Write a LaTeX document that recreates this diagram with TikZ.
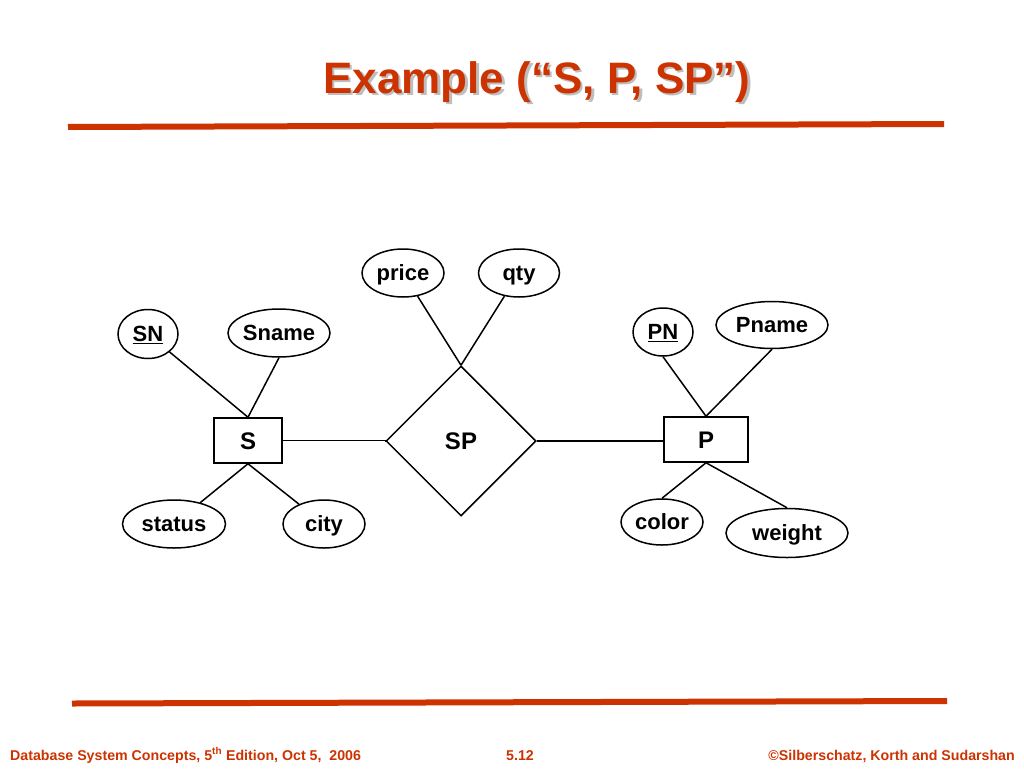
\documentclass[tikz,border=0pt]{standalone}
\usepackage{fontspec}
\setmainfont{Liberation Sans}
\usetikzlibrary{positioning,shapes,fit}
\definecolor{slidered}{RGB}{204,51,0}
\definecolor{shadowgray}{RGB}{190,190,190}
\tikzset{
  attr/.style={draw, ellipse, line width=1.5, inner sep=0, font=\fontsize{22}{24}\selectfont\bfseries, text height=15.8, text depth=0pt},
  entity/.style={draw, rectangle, line width=1.5, inner sep=0, font=\fontsize{24}{26}\selectfont\bfseries, text height=17.2, text depth=0pt},
  relship/.style={draw, diamond, line width=1.5, inner sep=0, minimum width=150, minimum height=150, font=\fontsize{24}{26}\selectfont\bfseries, text height=17.2, text depth=0pt},
  link/.style={line width=1.5},
  rule/.style={line width=6, color=slidered},
  footer/.style={inner sep=0, text=slidered, font=\fontsize{14.2}{16}\selectfont\bfseries}
}
\newcommand{\titletext}{Example (“S, P, SP”)}

\begin{document}
\begin{tikzpicture}[x=1pt,y=-1pt]
\useasboundingbox[fill=white] (0,0) rectangle (1024,768);

\node[anchor=base, inner sep=0, font=\fontsize{44}{48}\selectfont\bfseries] (title) at (537,93)
  {\makebox[0pt][l]{\hspace{2.5pt}\raisebox{-2.5pt}{\textcolor{shadowgray}{\titletext}}}\textcolor{slidered}{\titletext}};
\draw[rule] (68,127) -- (944,124);

\node[entity, minimum width=68, minimum height=45] (S) at (248,440.5) {S};
\node[entity, minimum width=84, minimum height=45] (P) at (706,439.5) {P};
\node[relship] (SP) at (461,441) {SP};

\node[attr, minimum width=60, minimum height=49] (SN) at (148,334) {\underline{SN}};
\node[attr, minimum width=99, minimum height=48] (Sname) at (279,333) {Sname};
\node[attr, minimum width=103, minimum height=48] (status) at (174,524) {status};
\node[attr, minimum width=82, minimum height=48] (city) at (324,524) {city};
\node[attr, minimum width=82, minimum height=48] (price) at (403,273) {price};
\node[attr, minimum width=81, minimum height=48] (qty) at (519,273) {qty};
\node[attr, minimum width=60, minimum height=48] (PN) at (663,332) {\underline{PN}};
\node[attr, minimum width=112, minimum height=47] (Pname) at (772,325) {Pname};
\node[attr, minimum width=82, minimum height=46] (color) at (662,522) {color};
\node[attr, minimum width=122, minimum height=49] (weight) at (787,533) {weight};

\draw[link] (SN) -- (S.north);
\draw[link] (Sname.south) -- (S.north);
\draw[link] (status) -- (S.south);
\draw[link] (city) -- (S.south);
\draw[link] (price) -- (SP.north);
\draw[link] (qty) -- (SP.north);
\draw[link] (S.east) -- (S.east -| SP.west) -- (SP.west);
\draw[link] (SP.east) -- (P.west |- SP.east);
\draw[link] (PN.south) -- (P.north);
\draw[link] (Pname.south) -- (P.north);
\draw[link] (color.north) -- (P.south);
\draw[link] (weight.north) -- (P.south);

\draw[rule] (72,703.5) -- (947,701);
\node[footer, anchor=base west] (edition) at (10,760) {Database System Concepts, 5\textsuperscript{th} Edition, Oct 5,\ \ 2006};
\node[footer, anchor=base] (pagenum) at (520,760) {5.12};
\node[footer, anchor=base east] (authors) at (1015,760) {©Silberschatz, Korth and Sudarshan};
\end{tikzpicture}
\end{document}
